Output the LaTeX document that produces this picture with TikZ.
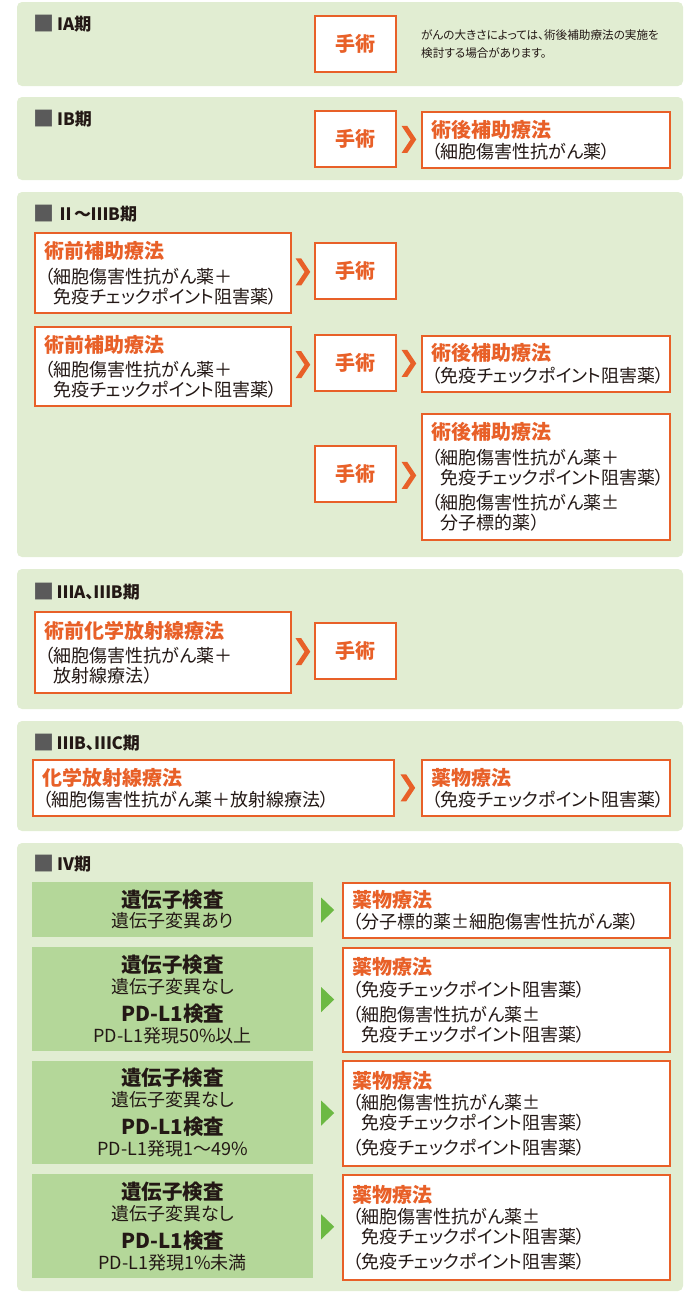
\documentclass[tikz,border=0pt]{standalone}
\usepackage{fontspec}
\setmainfont{Noto Sans CJK JP}[RawFeature=+palt]
\usepackage{tikz}
\definecolor{panelgreen}{RGB}{225,237,210}
\definecolor{boxgreen}{RGB}{180,215,153}
\definecolor{arrgreen}{RGB}{108,185,67}
\definecolor{orng}{RGB}{232,96,40}
\definecolor{ink}{RGB}{35,24,21}
\definecolor{sqgray}{RGB}{90,90,90}
\newcommand{\bodyfont}{\fontsize{18pt}{20pt}\selectfont}
\newcommand{\cbodyfont}{\fontsize{18pt}{20pt}\selectfont}
\newcommand{\titlefont}{\fontsize{20pt}{24pt}\selectfont\bfseries}
\newcommand{\headfont}{\fontsize{17pt}{19pt}\selectfont\bfseries}
\newcommand{\notefont}{\fontsize{11.6pt}{17.5pt}\selectfont}
\newcommand{\ttl}[1]{\textcolor{orng}{\titlefont #1}}
\newcommand{\chk}[1]{{\fontsize{20.5pt}{24pt}\selectfont\bfseries #1}}
\newcommand{\sq}{\textcolor{sqgray}{\fontsize{21pt}{21pt}\selectfont\raisebox{-1pt}{■}}\hspace{3pt}}
\newcommand{\ind}{\phantom{（}}
\tikzset{
	panel/.style={fill=panelgreen, rounded corners=5pt},
	stage/.style={anchor=west, inner sep=0pt, text=ink, font=\headfont},
	opbox/.style={draw=orng, line width=1.8pt, fill=white, text=orng, font=\titlefont,
		minimum width=81pt, minimum height=56pt, inner sep=0pt},
	txbox/.style={draw=orng, line width=1.8pt, fill=white, text=ink, font=\bodyfont,
		align=left, anchor=north west, inner xsep=10pt, inner ysep=0pt},
	gnbox/.style={fill=boxgreen, text=ink, font=\cbodyfont, align=center,
		anchor=north west, inner sep=0pt},
	note/.style={anchor=west, inner sep=0pt, text=ink, align=left, font=\notefont},
	chev/.pic={\fill[orng] (-7.4,-13.5) -- (-1.7,-13.5) -- (7.3,0) -- (-1.7,13.5) -- (-7.4,13.5) -- (1.6,0) -- cycle;},
	gtri/.pic={\fill[arrgreen] (-6.5,-12.5) -- (6.5,0) -- (-6.5,12.5) -- cycle;},
}

\begin{document}
\begin{tikzpicture}[x=1pt, y=-1pt]
	\useasboundingbox (0,0) rectangle (700,1293);
	% stage panels
	\fill[panel] (17,2) rectangle (683,86);
	\fill[panel] (17,97) rectangle (683,180);
	\fill[panel] (17,192) rectangle (683,557);
	\fill[panel] (17,569) rectangle (683,709);
	\fill[panel] (17,721) rectangle (683,831);
	\fill[panel] (17,843) rectangle (683,1291);

	% stage IA
	\node[stage] (stIA) at (33,24) {\sq IA期};
	\node[opbox] (opIA) at (355.5,44) {手術};
	\node[note] (noteIA) at (421,44) {がんの大きさによっては、術後補助療法の実施を\\検討する場合があります。};

	% stage IB
	\node[stage] (stIB) at (33,119) {\sq IB期};
	\node[opbox] (opIB) at (355.5,139) {手術};
	\node[txbox, text width=228pt, minimum height=56pt] (adjIB) at (421,111)
		{\ttl{術後補助療法}\\[1pt]（細胞傷害性抗がん薬）};
	\path (opIB.east) -- coordinate[midway] (cIB) (adjIB.west);
	\pic at (cIB) {chev};

	% stage II - IIIB
	\node[stage] (stII) at (33,214) {\sq Ⅱ〜ⅢB期};
	\node[txbox, text width=236pt, minimum height=80pt] (neoA) at (34,232)
		{\ttl{術前補助療法}\\[5pt]（細胞傷害性抗がん薬＋\\\ind 免疫チェックポイント阻害薬）};
	\node[opbox] (opA) at (355.5,271) {手術};
	\node[txbox, text width=236pt, minimum height=79pt] (neoB) at (34,326)
		{\ttl{術前補助療法}\\[4pt]（細胞傷害性抗がん薬＋\\\ind 免疫チェックポイント阻害薬）};
	\node[opbox] (opB) at (355.5,363) {手術};
	\node[txbox, text width=228pt, minimum height=56pt] (adjB) at (421,335)
		{\ttl{術後補助療法}\\[2pt]（免疫チェックポイント阻害薬）};
	\node[opbox] (opC) at (355.5,474) {手術};
	\node[txbox, text width=228pt, minimum height=126pt] (adjC) at (421,413)
		{\ttl{術後補助療法}\\[5pt]（細胞傷害性抗がん薬＋\\\ind 免疫チェックポイント阻害薬）\\[5pt]（細胞傷害性抗がん薬±\\\ind 分子標的薬）};
	\path (neoA.east) -- coordinate[midway] (cA) (opA.west);
	\path (neoB.east) -- coordinate[midway] (cB1) (opB.west);
	\path (opB.east) -- coordinate[midway] (cB2) (adjB.west);
	\path (opC.east) -- coordinate[midway] (cC) (adjC.west);
	\pic at (cA) {chev};
	\pic at (cB1) {chev};
	\pic at (cB2) {chev};
	\pic at (cC) {chev};

	% stage IIIA, IIIB
	\node[stage] (stIIIA) at (33,592) {\sq ⅢA、ⅢB期};
	\node[txbox, text width=236pt, minimum height=81pt] (crtA) at (34,611)
		{\ttl{術前化学放射線療法}\\[4pt]（細胞傷害性抗がん薬＋\\\ind 放射線療法）};
	\node[opbox] (opD) at (355.5,651) {手術};
	\path (crtA.east) -- coordinate[midway] (cD) (opD.west);
	\pic at (cD) {chev};

	% stage IIIB, IIIC
	\node[stage] (stIIIB) at (33,743) {\sq ⅢB、ⅢC期};
	\node[txbox, text width=341pt, minimum height=56pt] (crtB) at (32,759)
		{\ttl{化学放射線療法}\\[1pt]（細胞傷害性抗がん薬＋放射線療法）};
	\node[txbox, text width=228pt, minimum height=56pt] (drugB) at (421,759)
		{\ttl{薬物療法}\\[1pt]（免疫チェックポイント阻害薬）};
	\path (crtB.east) -- coordinate[midway] (cE) (drugB.west);
	\pic at (cE) {chev};

	% stage IV
	\node[stage] (stIV) at (33,864) {\sq Ⅳ期};
	\node[gnbox, text width=281pt, minimum height=55pt] (testA) at (32,882)
		{\chk{遺伝子検査}\\遺伝子変異あり};
	\node[gnbox, text width=281pt, minimum height=104pt] (testB) at (32,947)
		{\chk{遺伝子検査}\\[1pt]遺伝子変異なし\\[8pt]\chk{PD-L1検査}\\[1pt]PD-L1発現50\%以上};
	\node[gnbox, text width=281pt, minimum height=103pt] (testC) at (32,1061)
		{\chk{遺伝子検査}\\[1pt]遺伝子変異なし\\[8pt]\chk{PD-L1検査}\\[1pt]PD-L1発現1〜49\%};
	\node[gnbox, text width=281pt, minimum height=104pt] (testD) at (32,1174)
		{\chk{遺伝子検査}\\[1pt]遺伝子変異なし\\[8pt]\chk{PD-L1検査}\\[1pt]PD-L1発現1\%未満};
	\node[txbox, text width=307pt, minimum height=55pt] (drugA) at (342,882)
		{\ttl{薬物療法}\\[1pt]（分子標的薬±細胞傷害性抗がん薬）};
	\node[txbox, text width=307pt, minimum height=104pt] (drugC) at (342,947)
		{\ttl{薬物療法}\\[2pt]（免疫チェックポイント阻害薬）\\[5pt]（細胞傷害性抗がん薬±\\\ind 免疫チェックポイント阻害薬）};
	\node[txbox, text width=307pt, minimum height=105pt] (drugD) at (342,1060)
		{\ttl{薬物療法}\\[1pt]（細胞傷害性抗がん薬±\\\ind 免疫チェックポイント阻害薬）\\[5pt]（免疫チェックポイント阻害薬）};
	\node[txbox, text width=307pt, minimum height=105pt] (drugE) at (342,1174)
		{\ttl{薬物療法}\\[1pt]（細胞傷害性抗がん薬±\\\ind 免疫チェックポイント阻害薬）\\[5pt]（免疫チェックポイント阻害薬）};
	\path (testA.east) -- coordinate[midway] (gA) (drugA.west);
	\path (testB.east) -- coordinate[midway] (gB) (drugC.west);
	\path (testC.east) -- coordinate[midway] (gC) (drugD.west);
	\path (testD.east) -- coordinate[midway] (gD) (drugE.west);
	\pic at (gA) {gtri};
	\pic at (gB) {gtri};
	\pic at (gC) {gtri};
	\pic at (gD) {gtri};
\end{tikzpicture}
\end{document}
